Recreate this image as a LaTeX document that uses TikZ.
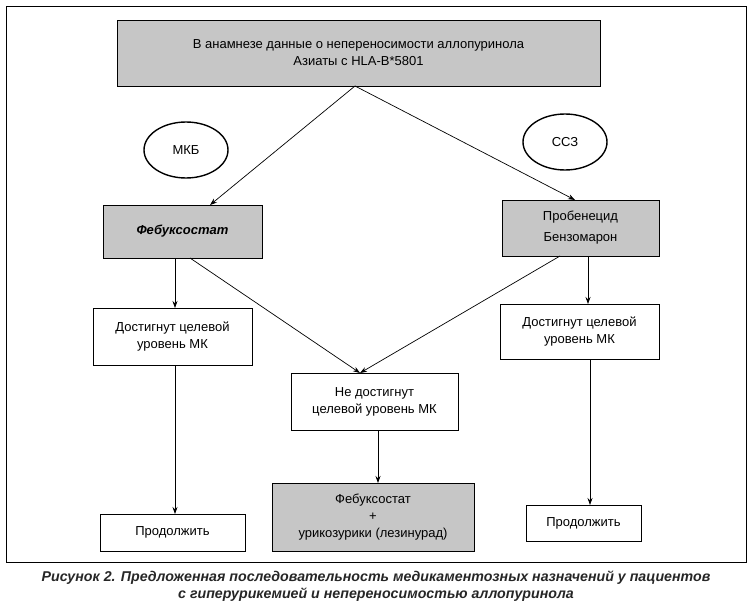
\documentclass[tikz,border=0pt]{standalone}
\usepackage{fontspec}
\setmainfont{Liberation Sans}
\usetikzlibrary{shapes.geometric,arrows.meta}
\begin{document}
\begin{tikzpicture}[x=1pt,y=-1pt,
  box/.style={draw,line width=0.8pt,align=center,font=\fontsize{13}{17}\selectfont,inner sep=0pt},
  gbox/.style={box,fill=gray!45},
  ell/.style={draw,ellipse,line width=1.4pt,minimum width=84pt,minimum height=56pt,font=\fontsize{13}{15}\selectfont},
  arr/.style={-{Stealth[length=7pt,width=5pt]},line width=0.7pt}]
\useasboundingbox (0,0) rectangle (752,607);
\draw[line width=0.6pt] (6,6) rectangle (746,562);
\node[gbox,minimum width=483pt,minimum height=66pt] (top) at (358.5,53) {В анамнезе данные о непереносимости аллопуринола\\Азиаты с HLA-B*5801};
\node[ell] (mkb) at (186,150) {МКБ};
\node[ell] (ssz) at (565,142) {ССЗ};
\node[gbox,minimum width=159pt,minimum height=53pt,font=\fontsize{13}{17}\selectfont\bfseries\itshape] (feb) at (182.5,231.5) {Фебуксостат};
\node[gbox,minimum width=157pt,minimum height=56pt,font=\fontsize{13}{21}\selectfont] (prob) at (580.5,228) {Пробенецид\\Бензомарон};
\node[box,minimum width=159pt,minimum height=57pt] (la) at (172.5,336.5) {Достигнут целевой\\уровень МК};
\node[box,minimum width=167pt,minimum height=57pt] (mn) at (374.5,401.5) {Не достигнут\\целевой уровень МК};
\node[box,minimum width=159pt,minimum height=55pt] (ra) at (579.5,331.5) {Достигнут целевой\\уровень МК};
\node[gbox,minimum width=202pt,minimum height=68pt] (bm) at (373,517) {Фебуксостат\\+\\урикозурики (лезинурад)};
\node[box,minimum width=145pt,minimum height=37pt] (lc) at (172.5,532.5) {Продолжить};
\node[box,minimum width=115pt,minimum height=36pt] (rc) at (583.5,523) {Продолжить};
\draw[arr] (355,86) -- (210,205);
\draw[arr] (355,86) -- (575,200);
\draw[arr] (175,258) -- (175,308);
\draw[arr] (190,258) -- (360,373);
\draw[arr] (560,256) -- (360,373);
\draw[arr] (588,256) -- (588,304);
\draw[arr] (175,365) -- (175,514);
\draw[arr] (378,430) -- (378,483);
\draw[arr] (590,359) -- (590,505);
\node[font=\fontsize{14.2}{16.5}\selectfont\bfseries\itshape,align=center,text=black!85] (cap) at (376,586) {Рисунок 2. Предложенная последовательность медикаментозных назначений у пациентов\\с гиперурикемией и непереносимостью аллопуринола};
\end{tikzpicture}
\end{document}
